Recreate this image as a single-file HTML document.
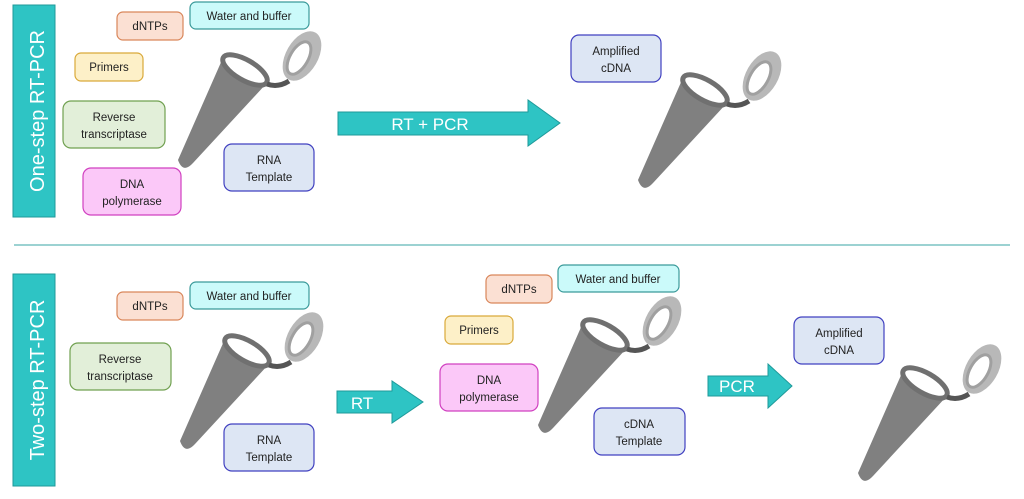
<!DOCTYPE html>
<html><head><style>
body{margin:0;background:#fff}
svg{display:block}
text{font-family:"Liberation Sans",sans-serif}
.b{font-size:11.5px;fill:#222;text-anchor:middle}
</style></head><body>
<svg width="1024" height="499" viewBox="0 0 1024 499" xmlns="http://www.w3.org/2000/svg">
<defs>
<g id="tube">
  <path d="M-23,-10 L21,14 L-52,93 Q-62,104 -67,90 Z" fill="#808080"/>
  <ellipse cx="0" cy="0" rx="25" ry="10" transform="rotate(30)" fill="#fff" stroke="#707070" stroke-width="5"/>
  <path d="M22,14 Q33,18 44,11" fill="none" stroke="#555" stroke-width="5"/>
  <ellipse cx="57" cy="-14" rx="27" ry="16" transform="rotate(-60 57 -14)" fill="#b8b8b8"/>
  <ellipse cx="54" cy="-12" rx="18" ry="9" transform="rotate(-60 54 -12)" fill="#fff" stroke="#a0a0a0" stroke-width="3"/>
</g>
</defs>
<rect x="13" y="5" width="42" height="212" fill="#2ec4c4" stroke="#1f9a9a"/>
<text transform="translate(44,111) rotate(-90)" text-anchor="middle" font-size="20" fill="#fff">One-step RT-PCR</text>
<rect x="13" y="274" width="42" height="212" fill="#2ec4c4" stroke="#1f9a9a"/>
<text transform="translate(44,380) rotate(-90)" text-anchor="middle" font-size="20" fill="#fff">Two-step RT-PCR</text>
<line x1="14" y1="245" x2="1010" y2="245" stroke="#7cc4c4" stroke-width="1.5"/>

<use href="#tube" transform="translate(245,70)"/>
<use href="#tube" transform="translate(705,90)"/>
<use href="#tube" transform="translate(247,351)"/>
<use href="#tube" transform="translate(605,335)"/>
<use href="#tube" transform="translate(925,383)"/>

<path d="M338,112 H528 V100 L560,123 L528,146 V135 H338 Z" fill="#2ec4c4" stroke="#1f9a9a"/>
<text x="430" y="130" font-size="17" fill="#fff" text-anchor="middle">RT + PCR</text>
<path d="M337,391 H392 V381 L423,402 L392,423 V413 H337 Z" fill="#2ec4c4" stroke="#1f9a9a"/>
<text x="362" y="409" font-size="17" fill="#fff" text-anchor="middle">RT</text>
<path d="M708,376 H768 V364 L792,386 L768,408 V396 H708 Z" fill="#2ec4c4" stroke="#1f9a9a"/>
<text x="737" y="392" font-size="17" fill="#fff" text-anchor="middle">PCR</text>

<g stroke-width="1.2">
<rect x="117" y="12" width="66" height="28" rx="6" fill="#fbe0d3" stroke="#d9865a"/>
<rect x="190" y="2" width="119" height="27" rx="6" fill="#cbfafa" stroke="#3a9a9a"/>
<rect x="75" y="53" width="68" height="28" rx="6" fill="#fdf0c8" stroke="#d9a93a"/>
<rect x="63" y="101" width="102" height="47" rx="8" fill="#e2efd9" stroke="#70a050"/>
<rect x="83" y="168" width="98" height="47" rx="8" fill="#fbc8f8" stroke="#d040c0"/>
<rect x="224" y="144" width="90" height="47" rx="8" fill="#dde6f4" stroke="#4040c0"/>
<rect x="571" y="35" width="90" height="47" rx="8" fill="#dde6f4" stroke="#4040c0"/>
<rect x="117" y="292" width="66" height="28" rx="6" fill="#fbe0d3" stroke="#d9865a"/>
<rect x="190" y="282" width="119" height="27" rx="6" fill="#cbfafa" stroke="#3a9a9a"/>
<rect x="70" y="343" width="101" height="47" rx="8" fill="#e2efd9" stroke="#70a050"/>
<rect x="224" y="424" width="90" height="47" rx="8" fill="#dde6f4" stroke="#4040c0"/>
<rect x="486" y="275" width="66" height="28" rx="6" fill="#fbe0d3" stroke="#d9865a"/>
<rect x="558" y="265" width="121" height="27" rx="6" fill="#cbfafa" stroke="#3a9a9a"/>
<rect x="445" y="316" width="68" height="28" rx="6" fill="#fdf0c8" stroke="#d9a93a"/>
<rect x="440" y="364" width="98" height="47" rx="8" fill="#fbc8f8" stroke="#d040c0"/>
<rect x="594" y="408" width="91" height="47" rx="8" fill="#dde6f4" stroke="#4040c0"/>
<rect x="794" y="317" width="90" height="47" rx="8" fill="#dde6f4" stroke="#4040c0"/>
</g>
<g class="b">
<text class="b" x="150" y="30">dNTPs</text>
<text class="b" x="249" y="20">Water and buffer</text>
<text class="b" x="109" y="71">Primers</text>
<text class="b" x="114" y="121">Reverse</text><text class="b" x="114" y="138">transcriptase</text>
<text class="b" x="132" y="188">DNA</text><text class="b" x="132" y="205">polymerase</text>
<text class="b" x="269" y="164">RNA</text><text class="b" x="269" y="181">Template</text>
<text class="b" x="616" y="55">Amplified</text><text class="b" x="616" y="72">cDNA</text>
<text class="b" x="150" y="310">dNTPs</text>
<text class="b" x="249" y="300">Water and buffer</text>
<text class="b" x="120" y="363">Reverse</text><text class="b" x="120" y="380">transcriptase</text>
<text class="b" x="269" y="444">RNA</text><text class="b" x="269" y="461">Template</text>
<text class="b" x="519" y="293">dNTPs</text>
<text class="b" x="618" y="283">Water and buffer</text>
<text class="b" x="479" y="334">Primers</text>
<text class="b" x="489" y="384">DNA</text><text class="b" x="489" y="401">polymerase</text>
<text class="b" x="639" y="428">cDNA</text><text class="b" x="639" y="445">Template</text>
<text class="b" x="839" y="337">Amplified</text><text class="b" x="839" y="354">cDNA</text>
</g>
</svg>
</body></html>
